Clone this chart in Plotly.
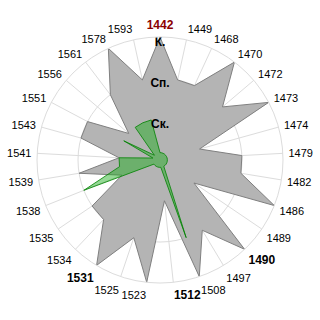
import plotly.graph_objects as go

categories = ["1442", "1449", "1468", "1470", "1472", "1473", "1474", "1479", "1482", "1486",
              "1489", "1490", "1497", "1508", "1512", "1523", "1525", "1531", "1534", "1535",
              "1538", "1539", "1541", "1543", "1551", "1556", "1561", "1578", "1593"]
gray_values = [3, 2, 2, 3, 2, 3, 1, 2, 2, 3, 1, 3, 2, 3, 1, 3, 2, 3, 2, 2, 1, 2, 1, 2, 2, 1, 2, 3, 2]
green_values = [0.18, 0.18, 0.18, 0.18, 0.18, 0.18, 0.18, 0.18, 0.18, 0.18, 0.18, 0.18, 0.18, 2, 0.18,
                0.18, 0.18, 0.18, 0.18, 0.18, 2, 1, 1, 0.18, 1, 0.18, 1, 1, 1]
level_values = [1, 2, 3]
level_labels = ["Ск.", "Сп.", "К."]
red_label = "1442"
bold_labels = ["1490", "1512", "1531"]

ticktext = []
for c in categories:
    if c == red_label:
        ticktext.append("<b><span style='color:#8b0000;font-size:12px'>%s</span></b>" % c)
    elif c in bold_labels:
        ticktext.append("<b><span style='font-size:12px'>%s</span></b>" % c)
    else:
        ticktext.append(c)

FONT = "Liberation Sans, Arial, sans-serif"

fig = go.Figure()
fig.add_trace(go.Scatterpolar(
    r=gray_values + gray_values[:1], theta=categories + categories[:1],
    mode="lines", fill="toself", fillcolor="#b4b4b4",
    line=dict(color="#7f7f7f", width=1), hoverinfo="skip"))
fig.add_trace(go.Scatterpolar(
    r=green_values + green_values[:1], theta=categories + categories[:1],
    mode="lines", fill="toself", fillcolor="rgba(20,170,20,0.45)",
    line=dict(color="rgba(0,130,0,0.8)", width=1), hoverinfo="skip"))
fig.add_trace(go.Scatterpolar(
    r=level_values, theta=[categories[0]] * 3, mode="text",
    text=["<b>%s</b>" % t for t in level_labels], textposition="bottom center",
    textfont=dict(family=FONT, size=12, color="#000000"), hoverinfo="skip"))

fig.update_layout(
    width=320, height=320, showlegend=False,
    margin=dict(l=37, r=37, t=37, b=37),
    paper_bgcolor="white",
    font=dict(family=FONT, size=11, color="#000000"),
    polar=dict(
        bgcolor="white",
        domain=dict(x=[0, 1], y=[0, 1]),
        radialaxis=dict(range=[0, 3], tickvals=level_values, showticklabels=False,
                        ticks="", showline=False, gridcolor="#dcdcdc", gridwidth=1),
        angularaxis=dict(type="category", categoryorder="array", categoryarray=categories,
                         tickvals=categories, ticktext=ticktext,
                         direction="clockwise", rotation=90,
                         ticks="outside", ticklen=3, tickcolor="rgba(0,0,0,0)",
                         showline=True, linecolor="#dcdcdc", gridcolor="#dcdcdc",
                         tickfont=dict(family=FONT, size=11, color="#000000")),
    ),
)
fig.write_html("out.html")
